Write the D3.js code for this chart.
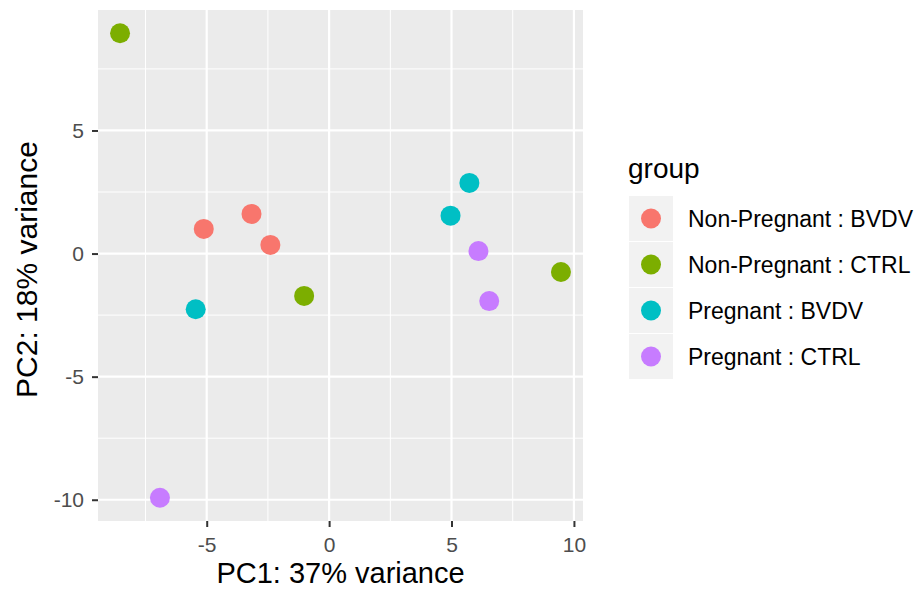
<!DOCTYPE html>
<html>
<head>
<meta charset="utf-8">
<script src="https://cdn.jsdelivr.net/npm/d3@7"></script>
<style>
  body { margin: 0; background: #fff; }
  svg { display: block; font-family: "Liberation Sans", Arial, sans-serif; }
</style>
</head>
<body>
<svg id="chart" width="923" height="594"></svg>
<script>
// PCA sample scores
const groups = ["Non-Pregnant : BVDV", "Non-Pregnant : CTRL", "Pregnant : BVDV", "Pregnant : CTRL"];
const groupColors = ["#F8766D", "#7CAE00", "#00BFC4", "#C77CFF"];
const pc1 = [-5.12, -3.17, -2.40, -8.54, -1.02, 9.47, -5.45, 4.96, 5.73, -6.91, 6.10, 6.54];
const pc2 = [1.00, 1.61, 0.35, 8.95, -1.72, -0.75, -2.26, 1.54, 2.87, -9.92, 0.10, -1.93];
const sampleGroup = [0, 0, 0, 1, 1, 1, 2, 2, 2, 3, 3, 3];
const xTicks = [-5, 0, 5, 10];
const yTicks = [-10, -5, 0, 5];
const xMinor = [-7.5, -2.5, 2.5, 7.5];
const yMinor = [-7.5, -2.5, 2.5, 7.5];
const xTitle = "PC1: 37% variance";
const yTitle = "PC2: 18% variance";
const legendTitle = "group";

const svg = d3.select("#chart");
const panel = { left: 98, top: 10, right: 583, bottom: 521 };

// 5% expansion of the data range on each side
function expanded(vals) {
  const [lo, hi] = d3.extent(vals);
  const pad = (hi - lo) * 0.05;
  return [lo - pad, hi + pad];
}
const x = d3.scaleLinear().domain(expanded(pc1)).range([panel.left, panel.right]);
const y = d3.scaleLinear().domain(expanded(pc2)).range([panel.bottom, panel.top]);

svg.append("rect")
  .attr("x", panel.left).attr("y", panel.top)
  .attr("width", panel.right - panel.left).attr("height", panel.bottom - panel.top)
  .attr("fill", "#EBEBEB");

const grid = svg.append("g");
grid.selectAll(".xminor").data(xMinor).join("line")
  .attr("x1", d => x(d)).attr("x2", d => x(d))
  .attr("y1", panel.top).attr("y2", panel.bottom)
  .attr("stroke", "#fff").attr("stroke-width", 1);
grid.selectAll(".yminor").data(yMinor).join("line")
  .attr("y1", d => y(d)).attr("y2", d => y(d))
  .attr("x1", panel.left).attr("x2", panel.right)
  .attr("stroke", "#fff").attr("stroke-width", 1);
grid.selectAll(".xmajor").data(xTicks).join("line")
  .attr("x1", d => x(d)).attr("x2", d => x(d))
  .attr("y1", panel.top).attr("y2", panel.bottom)
  .attr("stroke", "#fff").attr("stroke-width", 2.2);
grid.selectAll(".ymajor").data(yTicks).join("line")
  .attr("y1", d => y(d)).attr("y2", d => y(d))
  .attr("x1", panel.left).attr("x2", panel.right)
  .attr("stroke", "#fff").attr("stroke-width", 2.2);

// axes (plain hyphen for negative numbers)
const fmt = d => String(d);
const xAxis = svg.append("g")
  .attr("transform", `translate(0,${panel.bottom})`)
  .call(d3.axisBottom(x).tickValues(xTicks).tickSize(6).tickPadding(10).tickFormat(fmt));
const yAxis = svg.append("g")
  .attr("transform", `translate(${panel.left},0)`)
  .call(d3.axisLeft(y).tickValues(yTicks).tickSize(6).tickPadding(8).tickFormat(fmt));
[xAxis, yAxis].forEach(a => {
  a.select(".domain").remove();
  a.selectAll(".tick line").attr("stroke", "#333").attr("stroke-width", 2);
  a.selectAll(".tick text").attr("fill", "#4D4D4D").style("font-size", "21px")
    .style("font-family", "'Liberation Sans', Arial, sans-serif");
});

// axis titles
svg.append("text")
  .attr("x", (panel.left + panel.right) / 2).attr("y", 583)
  .attr("text-anchor", "middle").attr("fill", "#000")
  .style("font-size", "29px").text(xTitle);
svg.append("text")
  .attr("transform", `translate(37,${(panel.top + panel.bottom) / 2 + 4}) rotate(-90)`)
  .attr("text-anchor", "middle").attr("fill", "#000")
  .style("font-size", "30px").text(yTitle);

// points
svg.append("g").selectAll("circle").data(pc1.map((v, i) => i)).join("circle")
  .attr("cx", i => x(pc1[i])).attr("cy", i => y(pc2[i]))
  .attr("r", 10)
  .attr("fill", i => groupColors[sampleGroup[i]]);

// legend
const legend = svg.append("g");
legend.append("text").attr("x", 628).attr("y", 178)
  .attr("fill", "#000").style("font-size", "28px").text(legendTitle);
const keyW = 44, keyH = 45, keyTop = 196;
const rows = legend.selectAll(".row").data(groups).join("g")
  .attr("transform", (d, i) => `translate(629,${keyTop + i * (keyH + 1)})`);
rows.append("rect").attr("width", keyW).attr("height", keyH).attr("fill", "#F2F2F2");
rows.append("circle").attr("cx", keyW / 2).attr("cy", keyH / 2).attr("r", 10)
  .attr("fill", (d, i) => groupColors[i]);
rows.append("text").attr("x", 59).attr("y", keyH / 2).attr("dy", "0.35em")
  .attr("fill", "#000").style("font-size", "23px").text(d => d);
</script>
</body>
</html>
